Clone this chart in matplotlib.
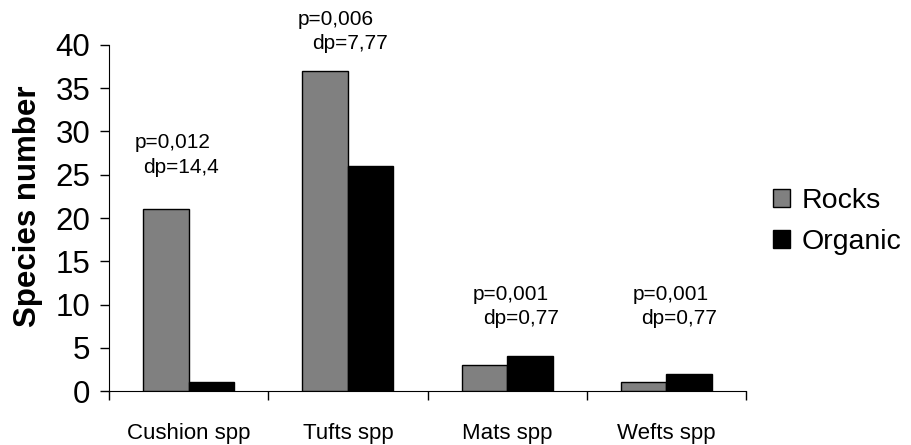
import matplotlib
matplotlib.use("Agg")
import matplotlib.pyplot as plt
import numpy as np

categories = ["Cushion spp", "Tufts spp", "Mats spp", "Wefts spp"]
rocks = [21, 37, 3, 1]
organic = [1, 26, 4, 2]
p_labels = ["p=0,012", "p=0,006", "p=0,001", "p=0,001"]
dp_labels = ["dp=14,4", "dp=7,77", "dp=0,77", "dp=0,77"]
series_names = ["Rocks", "Organic"]
yticks = [0, 5, 10, 15, 20, 25, 30, 35, 40]

# annotation placement (data coords)
ann_x = [-0.336, 0.682, 1.783, 2.79]
ann_dx = [0.05, 0.094, 0.063, 0.05]
ann_y_p = [28.7, 43.0, 11.1, 11.1]
ann_y_dp = [25.8, 40.2, 8.4, 8.4]

plt.rcParams['font.family'] = ['Liberation Sans', 'DejaVu Sans']

fig = plt.figure(figsize=(9.11, 4.45), dpi=100)
ax = fig.add_axes([0.1197, 0.1213, 0.6992, 0.7776])

x = np.arange(len(categories))
w = 0.286
ax.bar(x - w/2, rocks, w, color="#808080", edgecolor="black", linewidth=1.0, label=series_names[0], zorder=3)
ax.bar(x + w/2, organic, w, color="#000000", edgecolor="black", linewidth=1.0, label=series_names[1], zorder=3)

for i in range(len(categories)):
    ax.text(ann_x[i], ann_y_p[i], p_labels[i], fontsize=15, ha="left", va="center", clip_on=False)
    ax.text(ann_x[i] + ann_dx[i], ann_y_dp[i], dp_labels[i], fontsize=15, ha="left", va="center", clip_on=False)

ax.set_xlim(-0.5, len(categories) - 0.5)
ax.set_ylim(0, 40)
ax.set_yticks(yticks)
ax.tick_params(axis="y", labelsize=22.5, length=6.5, width=1, pad=7, direction="out")
ax.set_xticks(x)
ax.set_xticklabels(categories, fontsize=16)
ax.set_xticks(np.arange(len(categories) + 1) - 0.5, minor=True)
ax.tick_params(axis="x", which="major", length=0, pad=23)
ax.tick_params(axis="x", which="minor", length=6.5, width=1, direction="out")
ax.spines["top"].set_visible(False)
ax.spines["right"].set_visible(False)
ax.set_ylabel("Species number", fontsize=22.5, fontweight="bold")
ax.yaxis.set_label_coords(-0.104, 0.533)

leg = ax.legend(loc="center left", bbox_to_anchor=(1.025, 0.49), frameon=False, fontsize=20.5,
                handlelength=0.6, handleheight=0.6, handletextpad=0.4, labelspacing=0.5,
                borderaxespad=0)

fig.savefig("out.png", dpi=100)
